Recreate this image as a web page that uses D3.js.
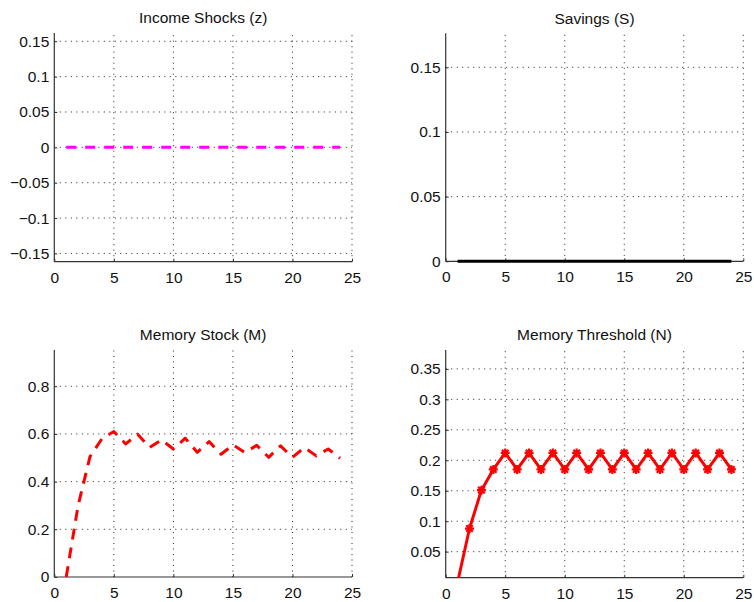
<!DOCTYPE html>
<html><head><meta charset="utf-8">
<script src="https://cdn.jsdelivr.net/npm/d3@7"></script>
<style>body{margin:0;background:#fff}svg{display:block}</style>
</head><body><svg id="c" width="754" height="602"></svg>
<script>
// ---- data ----
const periods = [1,2,3,4,5,6,7,8,9,10,11,12,13,14,15,16,17,18,19,20,21,22,23,24];
const incomeShocks = [0,0,0,0,0,0,0,0,0,0,0,0,0,0,0,0,0,0,0,0,0,0,0,0];
const savings = [0,0,0,0,0,0,0,0,0,0,0,0,0,0,0,0,0,0,0,0,0,0,0,0];
const memoryStock = [0, 0.30, 0.505, 0.58, 0.61, 0.558, 0.599, 0.543, 0.575, 0.537, 0.582, 0.523,
                     0.568, 0.515, 0.554, 0.522, 0.552, 0.502, 0.55, 0.502, 0.543, 0.508, 0.537, 0.498];
const memoryThreshold = [0, 0.088, 0.151, 0.185, 0.212, 0.185, 0.212, 0.185, 0.212, 0.185, 0.212, 0.185,
                         0.212, 0.185, 0.212, 0.185, 0.212, 0.185, 0.212, 0.185, 0.212, 0.185, 0.212, 0.185];
const titles = ["Income Shocks (z)", "Savings (S)", "Memory Stock (M)", "Memory Threshold (N)"];
const xTicks = [0, 5, 10, 15, 20, 25];
const zTicks = [-0.15, -0.1, -0.05, 0, 0.05, 0.1, 0.15];
const sTicks = [0, 0.05, 0.1, 0.15];
const mTicks = [0, 0.2, 0.4, 0.6, 0.8];
const nTicks = [0.05, 0.1, 0.15, 0.2, 0.25, 0.3, 0.35];

// ---- layout / style ----
const FONT = "'Liberation Sans', Arial, Helvetica, sans-serif";
const panels = [
  {title: titles[0], values: incomeShocks, ticks: zTicks, domain: [-0.1617, 0.1617],
   box: [54.3, 352, 33, 261.7], color: "#ff00ff", dash: "10,9", marker: false, pad: 2},
  {title: titles[1], values: savings, ticks: sTicks, domain: [0, 0.1763],
   box: [445.7, 743.3, 33.3, 261.3], color: "#000000", dash: null, marker: false, pad: 2},
  {title: titles[2], values: memoryStock, ticks: mTicks, domain: [0, 0.952],
   box: [54.3, 352, 350, 577], color: "#ff0000", dash: "11,8", marker: false, pad: 1},
  {title: titles[3], values: memoryThreshold, ticks: nTicks, domain: [0.0073, 0.381],
   box: [445.7, 743.3, 350, 577.7], color: "#ff0000", dash: null, marker: true, pad: 0}
];

const svg = d3.select("#c");
const fmt = v => String(+v.toFixed(4)).replace("-", "\u2212");

panels.forEach((p, i) => {
  const [x0, x1, y0, y1] = p.box;
  const x = d3.scaleLinear().domain([0, 25]).range([x0, x1]);
  const y = d3.scaleLinear().domain(p.domain).range([y1, y0]);
  const g = svg.append("g");

  const clipId = "clip" + i;
  svg.append("clipPath").attr("id", clipId).append("rect")
    .attr("x", x0).attr("y", y0).attr("width", x1 - x0).attr("height", y1 - y0 + p.pad);

  // grid
  g.selectAll(".vg").data(xTicks.filter(t => t > 0)).join("line")
    .attr("x1", d => x(d)).attr("x2", d => x(d)).attr("y1", y1).attr("y2", y0)
    .attr("stroke", "#222").attr("stroke-width", 1).attr("stroke-dasharray", "1,4.5");
  g.selectAll(".hg").data(p.ticks.filter(t => Math.abs(y(t) - y1) > 1)).join("line")
    .attr("x1", x0).attr("x2", x1).attr("y1", d => y(d)).attr("y2", d => y(d))
    .attr("stroke", "#222").attr("stroke-width", 1).attr("stroke-dasharray", "1,4.5");

  // axes
  const xa = d3.axisBottom(x).tickValues(xTicks).tickSizeInner(-3).tickSizeOuter(0)
    .tickPadding(10).tickFormat(d3.format("d"));
  const ya = d3.axisLeft(y).tickValues(p.ticks).tickSizeInner(-3).tickSizeOuter(0)
    .tickPadding(5).tickFormat(fmt);
  const gx = g.append("g").attr("transform", `translate(0,${y1})`).call(xa);
  const gy = g.append("g").attr("transform", `translate(${x0},0)`).call(ya);
  [gx, gy].forEach(a => {
    a.select(".domain").attr("stroke", "#333").attr("stroke-width", 1.2);
    a.selectAll(".tick line").attr("stroke", "#333");
    a.selectAll("text").attr("font-family", FONT).attr("font-size", 15.5).attr("fill", "#111");
  });
  gy.select(".domain").attr("d", `M0,${y1}V${y0}`);
  gx.select(".domain").attr("d", `M${x0},0H${x1}`);

  // title
  g.append("text").attr("x", (x0 + x1) / 2).attr("y", y0 - 9.7)
    .attr("text-anchor", "middle").attr("font-family", FONT).attr("font-size", 15.5)
    .attr("fill", "#111").text(p.title);

  // series
  const line = d3.line().x((d, k) => x(periods[k])).y(d => y(d));
  const path = g.append("path").datum(p.values)
    .attr("clip-path", `url(#${clipId})`)
    .attr("d", line).attr("fill", "none").attr("stroke", p.color)
    .attr("stroke-width", 3).attr("stroke-linejoin", "round");
  if (p.dash) path.attr("stroke-dasharray", p.dash).attr("stroke-linecap", "butt");

  if (p.marker) {
    const r = 4.5, q = r * 0.72;
    const star = `M${-r},0H${r}M0,${-r}V${r}M${-q},${-q}L${q},${q}M${-q},${q}L${q},${-q}`;
    g.selectAll(".mk").data(p.values.map((v, k) => [periods[k], v]).filter(d => d[1] >= p.domain[0]))
      .join("path")
      .attr("transform", d => `translate(${x(d[0])},${y(d[1])})`)
      .attr("d", star).attr("fill", "none").attr("stroke", p.color).attr("stroke-width", 2.2);
  }
});
</script>
</body></html>
